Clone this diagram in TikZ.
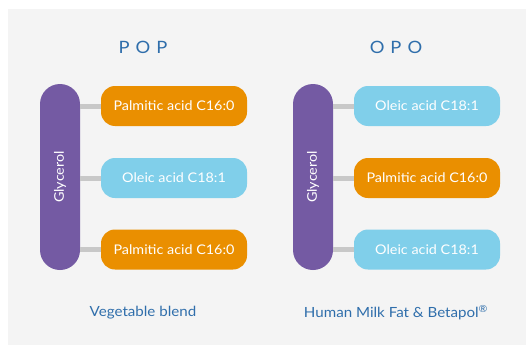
\documentclass[tikz,border=0pt]{standalone}
\usepackage{fontspec}
\setmainfont{Lato}[FakeStretch=1.08]

\definecolor{palmitic}{HTML}{EA8F00}
\definecolor{oleic}{HTML}{80CFEA}
\definecolor{glyc}{HTML}{745AA3}
\definecolor{panel}{HTML}{F4F4F4}
\definecolor{bondgray}{HTML}{C8C8C8}
\definecolor{capblue}{HTML}{2F6EAB}

\begin{document}
\begin{tikzpicture}[x=1pt,y=-1pt,
    acid/.style={rounded corners=14pt,minimum width=146pt,minimum height=40pt,inner sep=0pt,
        text=white,font=\fontsize{13.3}{15}\selectfont},
    palm/.style={acid,fill=palmitic},
    ole/.style={acid,fill=oleic},
    glycerol/.style={fill=glyc,rounded corners=20pt,minimum width=40pt,minimum height=186pt,
        inner sep=0pt,text=white,font=\fontsize{13.3}{15}\selectfont},
    bond/.style={draw=bondgray,line width=5pt},
    title/.style={text=capblue,font=\fontsize{17}{20}\selectfont},
    caption/.style={text=capblue,font=\fontsize{14}{16}\selectfont}]

    % light gray panel
    \useasboundingbox (0,0) rectangle (526,345);
    \fill[panel] (8,9) rectangle (526,345);

    % POP
    \node[title] (popT) at (143,47) {P\hspace{6pt}O\hspace{6pt}P};
    \node[glycerol] (glyA) at (60,177) {\rotatebox{90}{Glycerol}};
    \node[palm] (a1) at (174,106) {Palmitic acid C16:0};
    \node[ole]  (a2) at (174,178) {Oleic acid C18:1};
    \node[palm] (a3) at (174,249.5) {Palmitic acid C16:0};
    \foreach \n in {a1,a2,a3}
        \draw[bond] (\n.west -| glyA.east) -- (\n.west);
    \node[caption] (popC) at (143,313) {Vegetable blend};

    % OPO
    \node[title] (opoT) at (396,47) {O\hspace{6pt}P\hspace{6pt}O};
    \node[glycerol] (glyB) at (313,177) {\rotatebox{90}{Glycerol}};
    \node[ole]  (b1) at (427,106) {Oleic acid C18:1};
    \node[palm] (b2) at (427,178) {Palmitic acid C16:0};
    \node[ole]  (b3) at (427,249.5) {Oleic acid C18:1};
    \foreach \n in {b1,b2,b3}
        \draw[bond] (\n.west -| glyB.east) -- (\n.west);
    \node[caption] (opoC) at (396,313) {Human Milk Fat \& Betapol\textsuperscript{®}};

\end{tikzpicture}
\end{document}
